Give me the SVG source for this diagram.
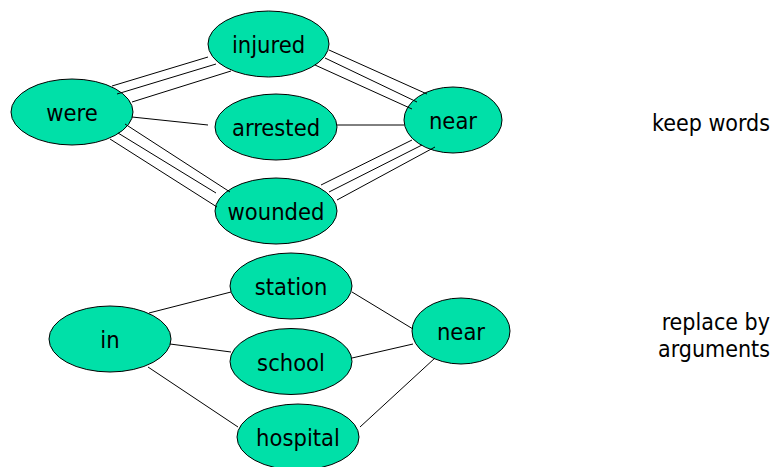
<svg xmlns="http://www.w3.org/2000/svg" width="777" height="467" viewBox="0 0 777 467">
  <style>
    .node ellipse { fill: #00E0A8; stroke: #000; stroke-width: 1; }
    .node text { font-family: "DejaVu Sans Condensed", "DejaVu Sans", sans-serif; font-size: 23.5px; fill: #000; text-anchor: middle; }
    .edges line { stroke: #000; stroke-width: 1; }
    .note { font-family: "DejaVu Sans Condensed", "DejaVu Sans", sans-serif; font-size: 23px; fill: #000; text-anchor: end; }
  </style>
  <rect width="777" height="467" fill="#fff"/>

  <!-- upper graph: keep words -->
  <g id="were" class="node"><ellipse cx="72" cy="112" rx="61" ry="33"/><text x="72" y="121">were</text></g>
  <g id="injured" class="node"><ellipse cx="268.5" cy="44" rx="60.5" ry="33"/><text x="268.5" y="53">injured</text></g>
  <g id="arrested" class="node"><ellipse cx="276" cy="127" rx="61" ry="33"/><text x="276" y="136">arrested</text></g>
  <g id="near-top" class="node"><ellipse cx="453" cy="120" rx="49" ry="33"/><text x="453" y="129">near</text></g>
  <g id="wounded" class="node"><ellipse cx="276" cy="211" rx="61" ry="33"/><text x="276" y="220">wounded</text></g>

  <!-- lower graph: replace by arguments -->
  <g id="in" class="node"><ellipse cx="110" cy="339" rx="61" ry="33"/><text x="110" y="348">in</text></g>
  <g id="station" class="node"><ellipse cx="291" cy="286" rx="61" ry="33"/><text x="291" y="295">station</text></g>
  <g id="school" class="node"><ellipse cx="291" cy="361.5" rx="61" ry="33"/><text x="291" y="370.5">school</text></g>
  <g id="hospital" class="node"><ellipse cx="298" cy="437" rx="61" ry="33"/><text x="298" y="446">hospital</text></g>
  <g id="near-bottom" class="node"><ellipse cx="461" cy="331" rx="49" ry="33"/><text x="461" y="340">near</text></g>

  <g id="connectors" class="edges">
    <!-- were - injured (triple) -->
    <line x1="112" y1="86" x2="208" y2="57"/>
    <line x1="117" y1="94" x2="216" y2="64"/>
    <line x1="132" y1="102" x2="231" y2="71"/>
    <!-- were - arrested -->
    <line x1="132" y1="117" x2="208" y2="125"/>
    <!-- were - wounded (triple) -->
    <line x1="125" y1="124" x2="230" y2="192"/>
    <line x1="118" y1="133" x2="216" y2="193"/>
    <line x1="110" y1="139" x2="217" y2="207"/>
    <!-- injured - near (triple) -->
    <line x1="329" y1="50" x2="427" y2="94"/>
    <line x1="325" y1="58" x2="417" y2="102"/>
    <line x1="315" y1="65" x2="412" y2="109"/>
    <!-- arrested - near -->
    <line x1="337" y1="125" x2="404" y2="125"/>
    <!-- near - wounded (triple) -->
    <line x1="412" y1="140" x2="321" y2="185"/>
    <line x1="422" y1="145" x2="329" y2="192"/>
    <line x1="435" y1="147" x2="337" y2="200"/>

    <!-- lower graph -->
    <line x1="149" y1="313" x2="231" y2="292"/>
    <line x1="170" y1="344" x2="231" y2="352"/>
    <line x1="148" y1="367" x2="238" y2="427"/>
    <line x1="352" y1="292" x2="413" y2="329"/>
    <line x1="352" y1="358" x2="413" y2="344"/>
    <line x1="360" y1="427" x2="435" y2="358"/>
  </g>

  <text class="note" x="770" y="131">keep words</text>
  <text class="note" x="770" y="330">replace by</text>
  <text class="note" x="770" y="357">arguments</text>
</svg>
